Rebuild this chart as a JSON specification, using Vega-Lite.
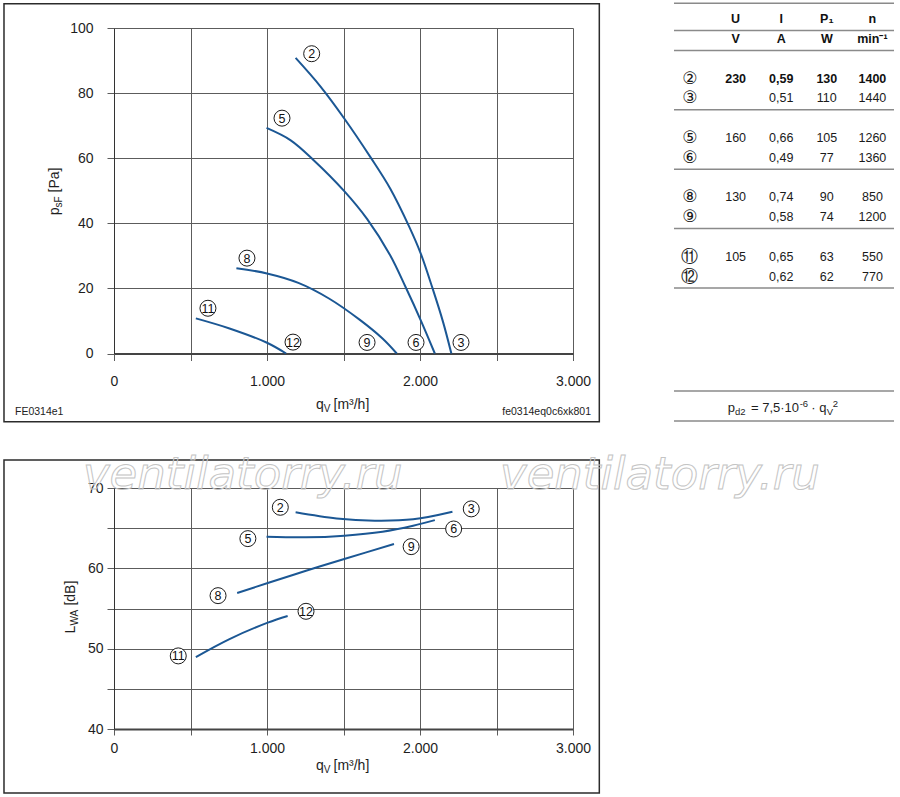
{
  "$schema": "https://vega.github.io/schema/vega-lite/v6.json",
  "background": "white",
  "padding": {"left": 3, "top": 2, "right": 3, "bottom": 3},
  "autosize": {"type": "pad"},
  "datasets": {
    "psf": [
      {"curve": "230", "q": 1187, "p": 90.8}, {"curve": "230", "q": 1350, "p": 82}, {"curve": "230", "q": 1505, "p": 72.2},
      {"curve": "230", "q": 1675, "p": 60.4}, {"curve": "230", "q": 1805, "p": 50.7}, {"curve": "230", "q": 1930, "p": 38.9},
      {"curve": "230", "q": 2005, "p": 30.7}, {"curve": "230", "q": 2080, "p": 20.3}, {"curve": "230", "q": 2150, "p": 9.8},
      {"curve": "230", "q": 2205, "p": 0},
      {"curve": "160", "q": 997, "p": 69.3}, {"curve": "160", "q": 1155, "p": 65.5}, {"curve": "160", "q": 1305, "p": 59.4},
      {"curve": "160", "q": 1505, "p": 49.9}, {"curve": "160", "q": 1655, "p": 41.3}, {"curve": "160", "q": 1805, "p": 30.2},
      {"curve": "160", "q": 1905, "p": 20.5}, {"curve": "160", "q": 2005, "p": 10.2}, {"curve": "160", "q": 2097, "p": 0},
      {"curve": "130", "q": 800, "p": 26.2}, {"curve": "130", "q": 1000, "p": 24.6}, {"curve": "130", "q": 1205, "p": 21.7},
      {"curve": "130", "q": 1405, "p": 16.9}, {"curve": "130", "q": 1605, "p": 10.4}, {"curve": "130", "q": 1755, "p": 4.6},
      {"curve": "130", "q": 1848, "p": 0},
      {"curve": "105", "q": 535, "p": 10.8}, {"curve": "105", "q": 755, "p": 7.7}, {"curve": "105", "q": 1000, "p": 3.3},
      {"curve": "105", "q": 1125, "p": 0}
    ],
    "psfLabels": [
      {"num": "2", "q": 1292, "p": 92.1}, {"num": "3", "q": 2268, "p": 3.4},
      {"num": "5", "q": 1098, "p": 72.3}, {"num": "6", "q": 1974, "p": 3.4},
      {"num": "8", "q": 869, "p": 29.3}, {"num": "9", "q": 1654, "p": 3.4},
      {"num": "11", "q": 614, "p": 13.9}, {"num": "12", "q": 1170, "p": 3.5}
    ],
    "lwa": [
      {"curve": "230", "q": 1187, "L": 66.97}, {"curve": "230", "q": 1455, "L": 66.2}, {"curve": "230", "q": 1705, "L": 65.93},
      {"curve": "230", "q": 1955, "L": 66.1}, {"curve": "230", "q": 2212, "L": 67.05},
      {"curve": "160", "q": 997, "L": 63.94}, {"curve": "160", "q": 1255, "L": 63.86}, {"curve": "160", "q": 1505, "L": 64.07},
      {"curve": "160", "q": 1755, "L": 64.56}, {"curve": "160", "q": 1955, "L": 65.3}, {"curve": "160", "q": 2097, "L": 66.0},
      {"curve": "130", "q": 805, "L": 56.93}, {"curve": "130", "q": 1005, "L": 58.17}, {"curve": "130", "q": 1255, "L": 59.7},
      {"curve": "130", "q": 1505, "L": 61.16}, {"curve": "130", "q": 1830, "L": 63.03},
      {"curve": "105", "q": 535, "L": 48.96}, {"curve": "105", "q": 755, "L": 51.2}, {"curve": "105", "q": 1005, "L": 53.24},
      {"curve": "105", "q": 1135, "L": 54.07}
    ],
    "lwaLabels": [
      {"num": "2", "q": 1087, "L": 67.6}, {"num": "3", "q": 2335, "L": 67.4},
      {"num": "5", "q": 875, "L": 63.7}, {"num": "6", "q": 2220, "L": 64.9},
      {"num": "8", "q": 680, "L": 56.6}, {"num": "9", "q": 1942, "L": 62.7},
      {"num": "11", "q": 420, "L": 49.1}, {"num": "12", "q": 1255, "L": 54.65}
    ],
    "table": [
      {"row": "hdr", "U": "U", "I": "I", "P1": "P₁", "n": "n"},
      {"row": "unit", "U": "V", "I": "A", "P1": "W", "n": "min⁻¹"},
      {"row": "②", "id": "②", "U": "230", "I": "0,59", "P1": "130", "n": "1400"},
      {"row": "③", "id": "③", "I": "0,51", "P1": "110", "n": "1440"},
      {"row": "⑤", "id": "⑤", "U": "160", "I": "0,66", "P1": "105", "n": "1260"},
      {"row": "⑥", "id": "⑥", "I": "0,49", "P1": "77", "n": "1360"},
      {"row": "⑧", "id": "⑧", "U": "130", "I": "0,74", "P1": "90", "n": "850"},
      {"row": "⑨", "id": "⑨", "I": "0,58", "P1": "74", "n": "1200"},
      {"row": "⑪", "id": "⑪", "U": "105", "I": "0,65", "P1": "63", "n": "550"},
      {"row": "⑫", "id": "⑫", "I": "0,62", "P1": "62", "n": "770"}
    ],
    "tableRules": [
      {"row": "hdr"}, {"row": "unit"}, {"row": "③"}, {"row": "⑥"}, {"row": "⑨"}, {"row": "⑫"}
    ]
  },
  "vconcat": [
    {
      "spacing": 72,
      "hconcat": [
        {
          "width": 459,
          "height": 325.5,
          "layer": [
            {
              "data": {"name": "psf"},
              "mark": {"type": "line", "color": "#1b5794", "strokeWidth": 2, "interpolate": "catmull-rom"},
              "encoding": {
                "x": {
                  "field": "q", "type": "quantitative",
                  "scale": {"domain": [0, 3000], "nice": false, "zero": false},
                  "axis": {
                    "title": null, "values": [0, 500, 1000, 1500, 2000, 2500, 3000],
                    "labelExpr": "datum.value % 1000 === 0 ? replace(format(datum.value, ','), ',', '.') : ''",
                    "labelPadding": 14
                  }
                },
                "y": {
                  "field": "p", "type": "quantitative",
                  "scale": {"domain": [0, 100], "nice": false, "zero": false},
                  "axis": {
                    "title": null, "values": [0, 10, 20, 30, 40, 50, 60, 70, 80, 90, 100],
                    "labelExpr": "datum.value % 20 === 0 ? datum.label : ''",
                    "labelPadding": 14
                  }
                },
                "detail": {"field": "curve", "type": "nominal"}
              }
            },
            {
              "data": {"name": "psfLabels"},
              "mark": {"type": "point", "shape": "circle", "size": 256, "filled": true, "fill": "white", "stroke": "#1a1a1a", "strokeWidth": 1, "opacity": 1},
              "encoding": {
                "x": {"field": "q", "type": "quantitative", "axis": {"title": null}},
                "y": {"field": "p", "type": "quantitative", "axis": {"title": null}}
              }
            },
            {
              "data": {"name": "psfLabels"},
              "mark": {"type": "text", "fontSize": 12.5, "color": "#111", "baseline": "middle", "align": "center", "dy": 0.5},
              "encoding": {
                "x": {"field": "q", "type": "quantitative", "axis": {"title": null}},
                "y": {"field": "p", "type": "quantitative", "axis": {"title": null}},
                "text": {"field": "num"}
              }
            },
            {
              "data": {"values": [{}]},
              "mark": {"type": "rect", "fillOpacity": 0, "stroke": "#2b2b2b", "strokeWidth": 1.5},
              "encoding": {
                "x": {"datum": -719, "type": "quantitative", "axis": {"title": null}},
                "x2": {"datum": 3172},
                "y": {"datum": 107.43, "type": "quantitative", "axis": {"title": null}},
                "y2": {"datum": -20.98}
              }
            },
            {
              "data": {"values": [{}]},
              "mark": {"type": "text", "text": "q", "align": "left", "baseline": "alphabetic", "fontSize": 14, "dx": -27.5, "dy": 55, "color": "#1e1e1e"},
              "encoding": {"x": {"datum": 1500, "type": "quantitative", "axis": {"title": null}}, "y": {"datum": 0, "type": "quantitative", "axis": {"title": null}}}
            },
            {
              "data": {"values": [{}]},
              "mark": {"type": "text", "text": "V", "align": "left", "baseline": "alphabetic", "fontSize": 10, "dx": -19.7, "dy": 58, "color": "#1e1e1e"},
              "encoding": {"x": {"datum": 1500, "type": "quantitative", "axis": {"title": null}}, "y": {"datum": 0, "type": "quantitative", "axis": {"title": null}}}
            },
            {
              "data": {"values": [{}]},
              "mark": {"type": "text", "text": "[m³/h]", "align": "left", "baseline": "alphabetic", "fontSize": 14, "dx": -10, "dy": 55, "color": "#1e1e1e"},
              "encoding": {"x": {"datum": 1500, "type": "quantitative", "axis": {"title": null}}, "y": {"datum": 0, "type": "quantitative", "axis": {"title": null}}}
            },
            {
              "data": {"values": [{}]},
              "mark": {"type": "text", "text": "p", "angle": 270, "align": "left", "baseline": "alphabetic", "fontSize": 14, "dx": -24.5, "dy": -55, "color": "#1e1e1e"},
              "encoding": {"x": {"datum": 0, "type": "quantitative", "axis": {"title": null}}, "y": {"datum": 50, "type": "quantitative", "axis": {"title": null}}}
            },
            {
              "data": {"values": [{}]},
              "mark": {"type": "text", "text": "sF", "angle": 270, "align": "left", "baseline": "alphabetic", "fontSize": 10, "dx": -16.7, "dy": -52, "color": "#1e1e1e"},
              "encoding": {"x": {"datum": 0, "type": "quantitative", "axis": {"title": null}}, "y": {"datum": 50, "type": "quantitative", "axis": {"title": null}}}
            },
            {
              "data": {"values": [{}]},
              "mark": {"type": "text", "text": "[Pa]", "angle": 270, "align": "left", "baseline": "alphabetic", "fontSize": 14, "dx": -1.7, "dy": -55, "color": "#1e1e1e"},
              "encoding": {"x": {"datum": 0, "type": "quantitative", "axis": {"title": null}}, "y": {"datum": 50, "type": "quantitative", "axis": {"title": null}}}
            },
            {
              "data": {"values": [{}]},
              "mark": {"type": "text", "text": "FE0314e1", "align": "left", "baseline": "alphabetic", "fontSize": 10.5, "dx": -99, "dy": 61.8, "color": "#222"},
              "encoding": {"x": {"datum": 0, "type": "quantitative", "axis": {"title": null}}, "y": {"datum": 0, "type": "quantitative", "axis": {"title": null}}}
            },
            {
              "data": {"values": [{}]},
              "mark": {"type": "text", "text": "fe0314eq0c6xk801", "align": "right", "baseline": "alphabetic", "fontSize": 10.5, "dx": 18, "dy": 61.8, "color": "#222"},
              "encoding": {"x": {"datum": 3000, "type": "quantitative", "axis": {"title": null}}, "y": {"datum": 0, "type": "quantitative", "axis": {"title": null}}}
            }
          ]
        },
        {
          "width": 220,
          "height": 380,
          "encoding": {
            "x": {
              "field": "col", "type": "nominal",
              "scale": {"type": "point", "domain": ["id", "U", "I", "P1", "n"], "padding": 0.412, "align": 0.4255},
              "axis": null
            },
            "y": {
              "field": "row", "type": "nominal",
              "scale": {
                "type": "point",
                "domain": ["hdr", "unit", "s1", "②", "③", "s2", "⑤", "⑥", "s3", "⑧", "⑨", "s4", "⑪", "⑫", "s5", "s6", "s7", "s8", "s9", "f"],
                "range": [-8.9, 367.3],
                "padding": 0
              },
              "axis": null
            }
          },
          "layer": [
            {
              "data": {"name": "table"},
              "transform": [
                {"fold": ["U", "I", "P1", "n"], "as": ["col", "val"]},
                {"filter": "isValid(datum.val) && datum.val !== ''"},
                {"filter": "indexof(['hdr', 'unit', '②'], datum.row) < 0"}
              ],
              "mark": {"type": "text", "fontSize": 12.5, "baseline": "middle", "align": "center", "color": "#1a1a1a"},
              "encoding": {"text": {"field": "val"}}
            },
            {
              "data": {"name": "table"},
              "transform": [
                {"fold": ["U", "I", "P1", "n"], "as": ["col", "val"]},
                {"filter": "isValid(datum.val) && datum.val !== ''"},
                {"filter": "indexof(['hdr', 'unit', '②'], datum.row) >= 0"}
              ],
              "mark": {"type": "text", "fontSize": 12.5, "fontWeight": "bold", "baseline": "middle", "align": "center", "color": "#111"},
              "encoding": {"text": {"field": "val"}}
            },
            {
              "data": {"name": "table"},
              "transform": [
                {"fold": ["id"], "as": ["col", "val"]},
                {"filter": "isValid(datum.val) && datum.val !== ''"}
              ],
              "mark": {"type": "text", "font": "DejaVu Sans", "fontSize": 17, "baseline": "middle", "align": "center", "color": "#1a1a1a"},
              "encoding": {"text": {"field": "val"}}
            },
            {
              "data": {"name": "tableRules"},
              "mark": {"type": "rule", "color": "#8a8a8a", "strokeWidth": 1.5, "yOffset": 11.5},
              "encoding": {"x": null, "y": {"field": "row", "type": "nominal", "axis": null}}
            },
            {
              "data": {"values": [{}]},
              "mark": {"type": "rule", "color": "#8a8a8a", "strokeWidth": 1.5, "yOffset": -15.8},
              "encoding": {"x": null, "y": {"datum": "hdr", "type": "nominal", "axis": null}}
            },
            {
              "data": {"values": [{}]},
              "mark": {"type": "rule", "color": "#8a8a8a", "strokeWidth": 1.5, "yOffset": -4.3},
              "encoding": {"x": null, "y": {"datum": "f", "type": "nominal", "axis": null}}
            },
            {
              "data": {"values": [{}]},
              "mark": {"type": "rule", "color": "#8a8a8a", "strokeWidth": 1.5, "yOffset": 25.7},
              "encoding": {"x": null, "y": {"datum": "f", "type": "nominal", "axis": null}}
            },
            {
              "data": {"values": [{}]},
              "mark": {"type": "text", "text": "p", "align": "left", "baseline": "alphabetic", "fontSize": 13, "dx": -53.5, "dy": 16.7, "color": "#1e1e1e"},
              "encoding": {"x": {"datum": "I", "type": "nominal", "axis": null}, "y": {"datum": "f", "type": "nominal", "axis": null}}
            },
            {
              "data": {"values": [{}]},
              "mark": {"type": "text", "text": "d2", "align": "left", "baseline": "alphabetic", "fontSize": 9.5, "dx": -46.3, "dy": 19.7, "color": "#1e1e1e"},
              "encoding": {"x": {"datum": "I", "type": "nominal", "axis": null}, "y": {"datum": "f", "type": "nominal", "axis": null}}
            },
            {
              "data": {"values": [{}]},
              "mark": {"type": "text", "text": "= 7,5·10", "align": "left", "baseline": "alphabetic", "fontSize": 13, "dx": -30.2, "dy": 16.7, "color": "#1e1e1e"},
              "encoding": {"x": {"datum": "I", "type": "nominal", "axis": null}, "y": {"datum": "f", "type": "nominal", "axis": null}}
            },
            {
              "data": {"values": [{}]},
              "mark": {"type": "text", "text": "-6", "align": "left", "baseline": "alphabetic", "fontSize": 9.5, "dx": 18.5, "dy": 11.2, "color": "#1e1e1e"},
              "encoding": {"x": {"datum": "I", "type": "nominal", "axis": null}, "y": {"datum": "f", "type": "nominal", "axis": null}}
            },
            {
              "data": {"values": [{}]},
              "mark": {"type": "text", "text": "· q", "align": "left", "baseline": "alphabetic", "fontSize": 13, "dx": 30, "dy": 16.7, "color": "#1e1e1e"},
              "encoding": {"x": {"datum": "I", "type": "nominal", "axis": null}, "y": {"datum": "f", "type": "nominal", "axis": null}}
            },
            {
              "data": {"values": [{}]},
              "mark": {"type": "text", "text": "V", "align": "left", "baseline": "alphabetic", "fontSize": 9.5, "dx": 45.5, "dy": 19.7, "color": "#1e1e1e"},
              "encoding": {"x": {"datum": "I", "type": "nominal", "axis": null}, "y": {"datum": "f", "type": "nominal", "axis": null}}
            },
            {
              "data": {"values": [{}]},
              "mark": {"type": "text", "text": "2", "align": "left", "baseline": "alphabetic", "fontSize": 9.5, "dx": 51.5, "dy": 11.2, "color": "#1e1e1e"},
              "encoding": {"x": {"datum": "I", "type": "nominal", "axis": null}, "y": {"datum": "f", "type": "nominal", "axis": null}}
            }
          ]
        }
      ]
    },
    {
      "width": 459,
      "height": 241,
      "layer": [
        {
          "data": {"name": "lwa"},
          "mark": {"type": "line", "color": "#1b5794", "strokeWidth": 2, "interpolate": "catmull-rom"},
          "encoding": {
            "x": {
              "field": "q", "type": "quantitative",
              "scale": {"domain": [0, 3000], "nice": false, "zero": false},
              "axis": {
                "title": null, "values": [0, 500, 1000, 1500, 2000, 2500, 3000],
                "labelExpr": "datum.value % 1000 === 0 ? replace(format(datum.value, ','), ',', '.') : ''",
                "labelPadding": 6, "tickSize": 6
              }
            },
            "y": {
              "field": "L", "type": "quantitative",
              "scale": {"domain": [40, 70], "nice": false, "zero": false},
              "axis": {
                "title": null, "values": [40, 45, 50, 55, 60, 65, 70],
                "labelExpr": "datum.value % 10 === 0 ? datum.label : ''",
                "labelPadding": 4, "tickSize": 7
              }
            },
            "detail": {"field": "curve", "type": "nominal"}
          }
        },
        {
          "data": {"name": "lwaLabels"},
          "mark": {"type": "point", "shape": "circle", "size": 256, "filled": true, "fill": "white", "stroke": "#1a1a1a", "strokeWidth": 1, "opacity": 1},
          "encoding": {
            "x": {"field": "q", "type": "quantitative", "axis": {"title": null}},
            "y": {"field": "L", "type": "quantitative", "axis": {"title": null}}
          }
        },
        {
          "data": {"name": "lwaLabels"},
          "mark": {"type": "text", "fontSize": 12.5, "color": "#111", "baseline": "middle", "align": "center", "dy": 0.5},
          "encoding": {
            "x": {"field": "q", "type": "quantitative", "axis": {"title": null}},
            "y": {"field": "L", "type": "quantitative", "axis": {"title": null}},
            "text": {"field": "num"}
          }
        },
        {
          "data": {"values": [{}]},
          "mark": {"type": "rect", "fillOpacity": 0, "stroke": "#2b2b2b", "strokeWidth": 1.5},
          "encoding": {
            "x": {"datum": -719, "type": "quantitative", "axis": {"title": null}},
            "x2": {"datum": 3172},
            "y": {"datum": 73.49, "type": "quantitative", "axis": {"title": null}},
            "y2": {"datum": 32.03}
          }
        },
        {
          "data": {"values": [{}]},
          "mark": {"type": "text", "text": "q", "align": "left", "baseline": "alphabetic", "fontSize": 14, "dx": -27.5, "dy": 40.5, "color": "#1e1e1e"},
          "encoding": {"x": {"datum": 1500, "type": "quantitative", "axis": {"title": null}}, "y": {"datum": 40, "type": "quantitative", "axis": {"title": null}}}
        },
        {
          "data": {"values": [{}]},
          "mark": {"type": "text", "text": "V", "align": "left", "baseline": "alphabetic", "fontSize": 10, "dx": -19.7, "dy": 43.5, "color": "#1e1e1e"},
          "encoding": {"x": {"datum": 1500, "type": "quantitative", "axis": {"title": null}}, "y": {"datum": 40, "type": "quantitative", "axis": {"title": null}}}
        },
        {
          "data": {"values": [{}]},
          "mark": {"type": "text", "text": "[m³/h]", "align": "left", "baseline": "alphabetic", "fontSize": 14, "dx": -10, "dy": 40.5, "color": "#1e1e1e"},
          "encoding": {"x": {"datum": 1500, "type": "quantitative", "axis": {"title": null}}, "y": {"datum": 40, "type": "quantitative", "axis": {"title": null}}}
        },
        {
          "data": {"values": [{}]},
          "mark": {"type": "text", "text": "L", "angle": 270, "align": "left", "baseline": "alphabetic", "fontSize": 14, "dx": -24.9, "dy": -39, "color": "#1e1e1e"},
          "encoding": {"x": {"datum": 0, "type": "quantitative", "axis": {"title": null}}, "y": {"datum": 55, "type": "quantitative", "axis": {"title": null}}}
        },
        {
          "data": {"values": [{}]},
          "mark": {"type": "text", "text": "WA", "angle": 270, "align": "left", "baseline": "alphabetic", "fontSize": 10, "dx": -17.1, "dy": -36, "color": "#1e1e1e"},
          "encoding": {"x": {"datum": 0, "type": "quantitative", "axis": {"title": null}}, "y": {"datum": 55, "type": "quantitative", "axis": {"title": null}}}
        },
        {
          "data": {"values": [{}]},
          "mark": {"type": "text", "text": "[dB]", "angle": 270, "align": "left", "baseline": "alphabetic", "fontSize": 14, "dx": 2.9, "dy": -39, "color": "#1e1e1e"},
          "encoding": {"x": {"datum": 0, "type": "quantitative", "axis": {"title": null}}, "y": {"datum": 55, "type": "quantitative", "axis": {"title": null}}}
        },
        {
          "data": {"values": [{}]},
          "mark": {"type": "text", "text": "ventilatorry.ru", "align": "left", "baseline": "alphabetic", "font": "DejaVu Sans", "fontStyle": "italic", "fontSize": 45, "fillOpacity": 0, "stroke": "#c4c4c4", "strokeWidth": 1},
          "encoding": {"x": {"datum": -203, "type": "quantitative", "axis": {"title": null}}, "y": {"datum": 69.91, "type": "quantitative", "axis": {"title": null}}}
        },
        {
          "data": {"values": [{}]},
          "mark": {"type": "text", "text": "ventilatorry.ru", "align": "left", "baseline": "alphabetic", "font": "DejaVu Sans", "fontStyle": "italic", "fontSize": 45, "fillOpacity": 0, "stroke": "#c4c4c4", "strokeWidth": 1},
          "encoding": {"x": {"datum": 2523, "type": "quantitative", "axis": {"title": null}}, "y": {"datum": 69.91, "type": "quantitative", "axis": {"title": null}}}
        }
      ]
    }
  ],
  "spacing": 29,
  "config": {
    "font": "Liberation Sans",
    "view": {"stroke": null},
    "axis": {
      "grid": true,
      "gridColor": "#5c5c5c",
      "gridWidth": 1,
      "gridOpacity": 1,
      "tickColor": "#5c5c5c",
      "tickSize": 7,
      "domainColor": "#333",
      "domainWidth": 1,
      "labelFont": "Liberation Sans",
      "labelFontSize": 14,
      "labelColor": "#1e1e1e",
      "labelFlush": false,
      "labelOverlap": false
    },
    "axisX": {"domainWidth": 2, "domainColor": "#444"}
  }
}
